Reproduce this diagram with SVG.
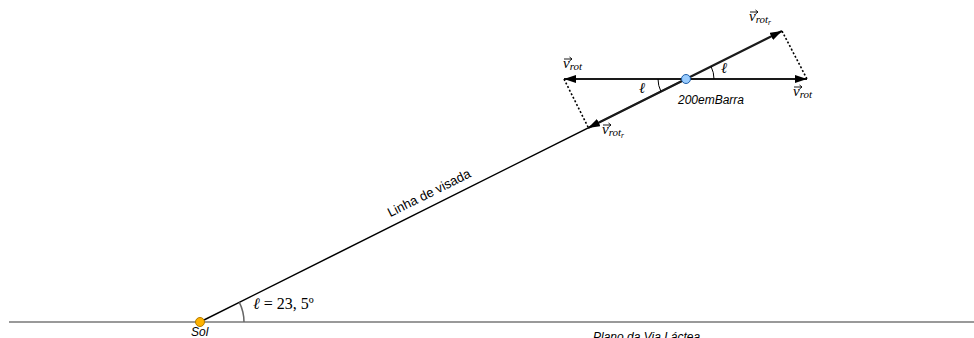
<svg xmlns="http://www.w3.org/2000/svg" width="974" height="338" viewBox="0 0 974 338">
<style>
.vec{stroke:#1a1a1a;stroke-width:2.2;fill:none}
.los{stroke:#000;stroke-width:1.5;fill:none}
.dot{stroke:#000;stroke-width:1.6;stroke-dasharray:2 2;fill:none}
.arc{stroke:#000;stroke-width:1;fill:none}
.lbl{font-family:"Liberation Sans",Arial,sans-serif;font-style:italic;font-size:12px;fill:#000}
.m{font-family:"Liberation Serif","DejaVu Serif",serif;font-style:italic;fill:#000}
.acc{stroke:#000;stroke-width:0.9;fill:none}
</style>
<defs>
<marker id="ah" viewBox="0 0 12 8" refX="12" refY="4" markerWidth="12" markerHeight="8" markerUnits="userSpaceOnUse" orient="auto">
<path d="M0,0 L12,4 L0,8 Z" fill="#000"/>
</marker>
<path id="vacc" d="M0,0 H8 M5.5,-2 L8,0 L5.5,2"/>
</defs>
<g id="plane">
<line x1="9" y1="322" x2="974" y2="322" stroke="#999" stroke-width="2"/>
<text class="lbl" x="593" y="341">Plano da Via Láctea</text>
</g>
<g id="connectors">
<line class="los" x1="200" y1="322" x2="686" y2="79"/>
<line class="vec" x1="686" y1="79" x2="782" y2="31" marker-end="url(#ah)"/>
<line class="vec" x1="686" y1="79" x2="588" y2="128" marker-end="url(#ah)"/>
<line class="vec" x1="686" y1="79" x2="807" y2="79" marker-end="url(#ah)"/>
<line class="vec" x1="686" y1="79" x2="564" y2="79" marker-end="url(#ah)"/>
<line class="dot" x1="782" y1="31" x2="807" y2="79"/>
<line class="dot" x1="564" y1="79" x2="588" y2="127"/>
<path class="arc" d="M714,79 A28,28 0 0 0 711.04,66.48"/>
<path class="arc" d="M658,79 A28,28 0 0 0 660.96,91.52"/>
<path d="M244,322 A44,44 0 0 0 239.35,302.32" stroke="#666" stroke-width="1.5" fill="none"/>
<text font-family="Liberation Sans, Arial, sans-serif" font-size="13" fill="#000" transform="translate(431,197) rotate(-26.57)" text-anchor="middle">Linha de visada</text>
</g>
<g id="labels">
<text class="m" font-size="15" x="721" y="73">ℓ</text>
<text class="m" font-size="15" x="639" y="93">ℓ</text>
<text x="253" y="309" font-family="Liberation Serif, DejaVu Serif, serif" font-size="16" fill="#000"><tspan font-style="italic">ℓ</tspan> = 23, 5º</text>
<g id="v1"><text class="m" x="563" y="68"><tspan font-size="15">v</tspan><tspan font-size="11" dy="2">rot</tspan></text><use href="#vacc" class="acc" x="564" y="59"/></g>
<g id="v2"><text class="m" x="793" y="96"><tspan font-size="15">v</tspan><tspan font-size="11" dy="2">rot</tspan></text><use href="#vacc" class="acc" x="794" y="87"/></g>
<g id="v3"><text class="m" x="749" y="21"><tspan font-size="15">v</tspan><tspan font-size="11" dy="2">rot</tspan><tspan font-size="7.5" dy="2">r</tspan></text><use href="#vacc" class="acc" x="750" y="12"/></g>
<g id="v4"><text class="m" x="602" y="134"><tspan font-size="15">v</tspan><tspan font-size="11" dy="2">rot</tspan><tspan font-size="7.5" dy="2">r</tspan></text><use href="#vacc" class="acc" x="603" y="125"/></g>
</g>
<g id="Sol">
<circle cx="200" cy="322" r="4.5" fill="#FFB300" stroke="#B37A00" stroke-width="1"/>
<text class="lbl" x="191" y="336" font-size="11">Sol</text>
</g>
<g id="n200emBarra">
<circle cx="686" cy="79" r="4.5" fill="#99CCFF" stroke="#1F5FA8" stroke-width="1"/>
<text class="lbl" x="678" y="104">200emBarra</text>
</g>
</svg>
